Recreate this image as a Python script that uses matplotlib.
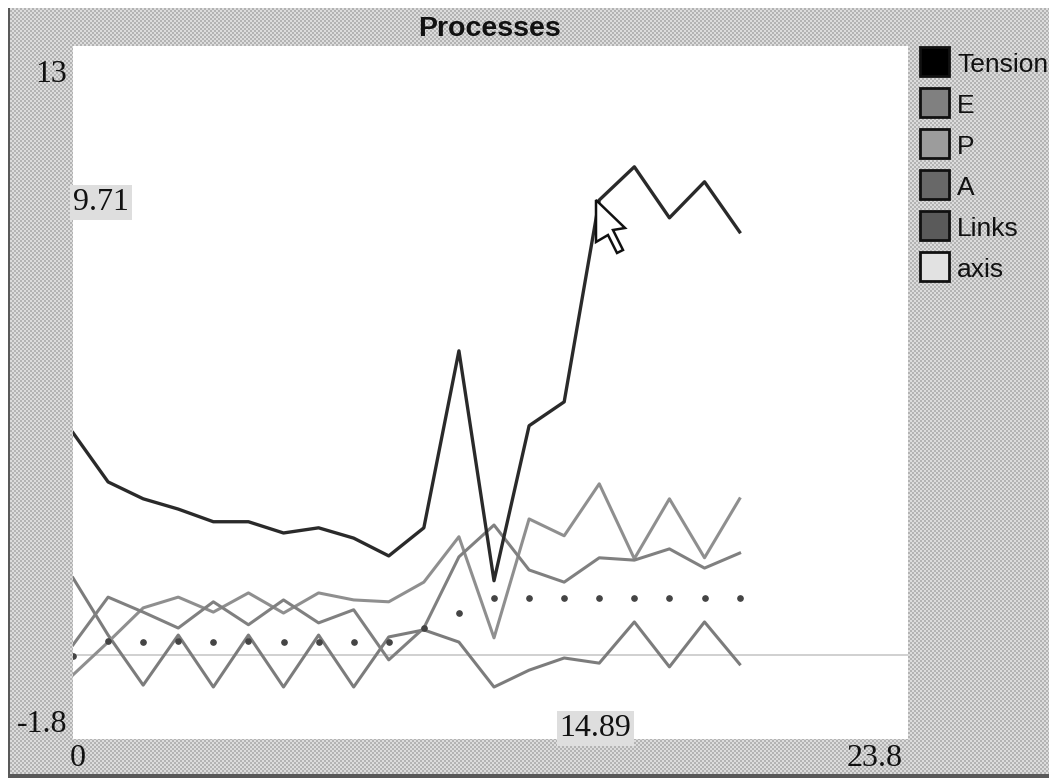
import numpy as np
import matplotlib
matplotlib.use("Agg")
import matplotlib.pyplot as plt
from matplotlib.patches import Polygon, Rectangle

W, H = 1049, 778

X_MIN, X_MAX = 0, 23.8
Y_MIN, Y_MAX = -1.8, 13
CURSOR_X, CURSOR_Y = 14.89, 9.71

steps = np.arange(20)
tension = [4.74, 3.69, 3.33, 3.11, 2.84, 2.84, 2.60, 2.71, 2.49, 2.11,
           2.71, 6.49, 1.58, 4.89, 5.40, 9.71, 10.42, 9.33, 10.10, 9.03]
e_vals = [1.64, 0.42, -0.65, 0.42, -0.69, 0.42, -0.69, 0.42, -0.69, 0.38,
          0.53, 0.27, -0.69, -0.33, -0.07, -0.18, 0.70, -0.26, 0.70, -0.20]
p_vals = [-0.43, 0.27, 1.00, 1.23, 0.91, 1.32, 0.89, 1.32, 1.17, 1.13,
          1.55, 2.52, 0.36, 2.90, 2.54, 3.65, 2.05, 3.33, 2.07, 3.33]
a_vals = [0.21, 1.23, 0.91, 0.57, 1.13, 0.64, 1.17, 0.68, 0.96, -0.11,
          0.57, 2.09, 2.77, 1.81, 1.55, 2.07, 2.02, 2.26, 1.85, 2.17]
links = [-0.03, 0.30, 0.27, 0.30, 0.27, 0.30, 0.27, 0.27, 0.27, 0.27,
         0.57, 0.89, 1.21, 1.21, 1.21, 1.21, 1.21, 1.21, 1.21, 1.21]

legend_names = ['Tension', 'E', 'P', 'A', 'Links', 'axis']
legend_colors = ['#000000', '#808080', '#9c9c9c', '#686868', '#5a5a5a', '#e2e2e2']

NUM_FONT = dict(family='Liberation Serif', fontsize=23, color='#111111')


def px(x, y):
    # pixel position, measured from the top left, to figure fraction
    return x / W, 1 - y / H


fig = plt.figure(figsize=(W / 100, H / 100), dpi=100, facecolor='white')

# dithered window background
yy, xx = np.mgrid[0:H, 0:W]
dither = np.where(((xx // 2) + (yy // 2)) % 2 == 0, 0.70, 0.86)
dither[:, 8:10] = 0.35
dither[774:, :] = 0.35
dither[:8, :] = 1.0
dither[:, :8] = 1.0
fig.figimage(dither, cmap='gray', vmin=0, vmax=1, origin='upper', zorder=-1)

ax = fig.add_axes([73 / W, 1 - 739 / H, 835 / W, 693 / H], zorder=1)
ax.set_xlim(X_MIN, X_MAX)
ax.set_ylim(Y_MIN, Y_MAX)
ax.set_facecolor('white')
ax.set_xticks([])
ax.set_yticks([])
for spine in ax.spines.values():
    spine.set_visible(False)

ax.axhline(0, color='#c8c8c8', lw=1.2, zorder=1)
ax.plot(steps, e_vals, color='#7c7c7c', lw=2.2, zorder=2)
ax.plot(steps, p_vals, color='#8f8f8f', lw=2.2, zorder=2)
ax.plot(steps, a_vals, color='#808080', lw=2.2, zorder=2)
ax.plot(steps, links, ls='none', marker='o', ms=3.8, color='#444444', zorder=3)
ax.plot(steps, tension, color='#2a2a2a', lw=2.4, zorder=4)

label_box = dict(facecolor='#dedede', edgecolor='none', pad=2)
ax.text(X_MIN, CURSOR_Y - 0.05, f'{CURSOR_Y:.2f}', ha='left', va='center',
        bbox=label_box, zorder=5, **NUM_FONT)
ax.text(CURSOR_X, Y_MIN - 0.08, f'{CURSOR_X:.2f}', ha='center', va='bottom',
        bbox=label_box, zorder=5, **NUM_FONT)

# mouse pointer
cursor = [(596, 200), (625, 228), (613, 230), (623, 250), (617, 253), (608, 235), (596, 242)]
fig.add_artist(Polygon([px(*p) for p in cursor], closed=True, facecolor='white',
                       edgecolor='#111111', lw=1.8, zorder=6))

fig.text(*px(490, 29), 'Processes', family='Liberation Sans', fontweight='bold', fontsize=20.5,
         ha='center', va='center', color='#111111', zorder=6)

fig.text(*px(67, 75), f'{Y_MAX}', ha='right', va='center', zorder=6, **NUM_FONT)
fig.text(*px(67, 725), f'{Y_MIN}', ha='right', va='center', zorder=6, **NUM_FONT)
fig.text(*px(70, 759), f'{X_MIN}', ha='left', va='center', zorder=6, **NUM_FONT)
fig.text(*px(903, 759), f'{X_MAX}', ha='right', va='center', zorder=6, **NUM_FONT)

# legend on the right
for i, (name, col) in enumerate(zip(legend_names, legend_colors)):
    top = 47 + i * 41
    x0, y0 = px(920, top + 29)
    fig.add_artist(Rectangle((x0, y0), 29 / W, 29 / H, facecolor=col, edgecolor='#111111',
                             lw=2, transform=fig.transFigure, zorder=6))
    fig.text(*px(957, top + 18), name, family='Liberation Sans', fontsize=19,
             ha='left', va='center', color='#111111', zorder=6)

fig.savefig('out.png', dpi=100)
